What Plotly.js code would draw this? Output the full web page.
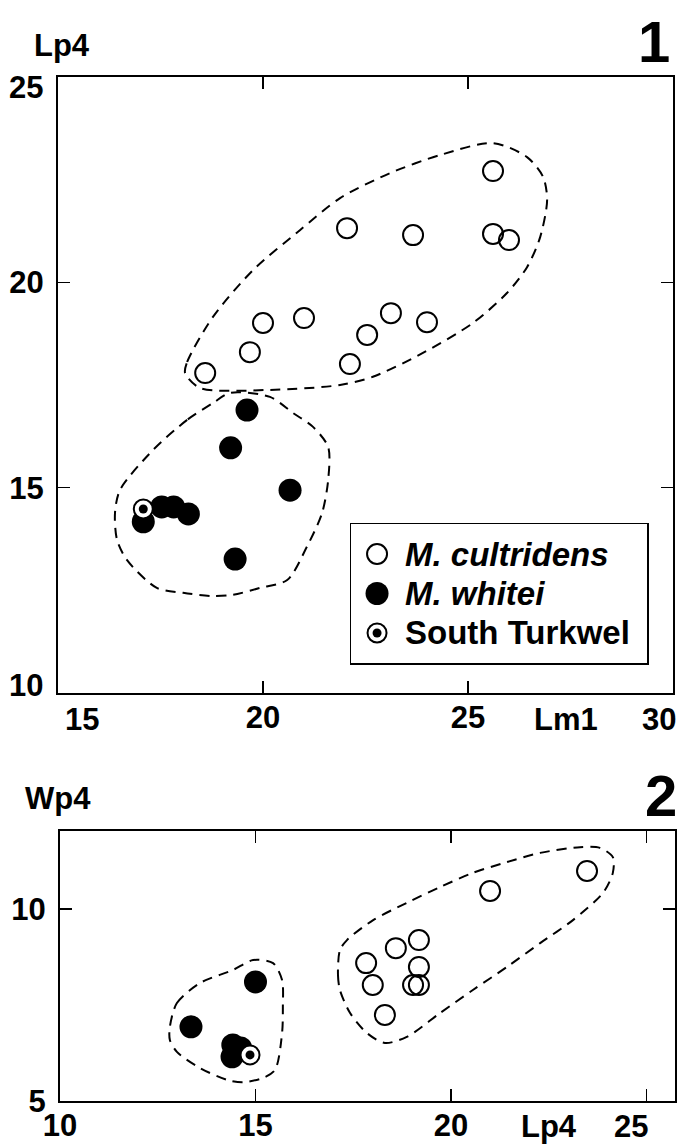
<!DOCTYPE html>
<html>
<head>
<meta charset="utf-8">
<script src="https://cdn.plot.ly/plotly-3.0.1.min.js"></script>
<style>html,body{margin:0;padding:0;background:#fff;}#chart{width:681px;height:1144px;}</style>
</head>
<body>
<div id="chart"></div>
<script>
// ---------- Plot 1: Lm1 vs Lp4 ----------
const cult1X = [18.59, 19.68, 20.0, 21.0, 22.05, 23.66, 25.61, 25.61, 26.0, 23.12, 24.0, 22.54, 22.12];
const cult1Y = [17.79, 18.30, 19.01, 19.13, 21.32, 21.15, 22.71, 21.18, 21.03, 19.25, 19.03, 18.72, 18.01];
const whit1X = [19.61, 19.21, 20.66, 19.32, 17.08, 17.53, 17.82, 18.18];
const whit1Y = [16.89, 15.97, 14.94, 13.26, 14.17, 14.53, 14.53, 14.36];
const turk1X = [17.08];
const turk1Y = [14.48];
const hullA1X = [18.10, 18.15, 18.78, 19.76, 20.90, 21.88, 23.10, 24.32, 25.61, 26.44, 26.83, 26.93, 26.76, 26.44, 25.95, 25.12, 23.90, 22.68, 21.88, 20.17, 18.46, 18.10];
const hullA1Y = [17.79, 18.06, 19.16, 20.30, 21.27, 22.05, 22.66, 23.10, 23.39, 23.05, 22.57, 22.01, 21.10, 20.37, 19.74, 19.01, 18.28, 17.70, 17.50, 17.38, 17.43, 17.79];
const hullB1X = [18.78, 18.15, 17.32, 16.51, 16.39, 16.44, 16.68, 17.41, 18.05, 18.78, 19.27, 19.93, 20.59, 21.07, 21.44, 21.59, 21.59, 21.22, 20.73, 20.17, 19.20, 18.78];
const hullB1Y = [17.06, 16.65, 15.92, 14.94, 14.38, 13.73, 13.24, 12.56, 12.44, 12.36, 12.39, 12.56, 12.75, 13.56, 14.38, 15.19, 15.99, 16.48, 16.82, 17.21, 17.31, 17.06];
const ticks1X = [15, 20, 25, 30];
const ticks1Y = [10, 15, 20, 25];

// ---------- Plot 2: Lp4 vs Wp4 ----------
const cult2X = [21.0, 23.48, 19.18, 18.59, 17.83, 19.18, 18.0, 19.03, 19.18, 18.31];
const cult2Y = [10.47, 10.99, 9.19, 8.98, 8.59, 8.49, 8.02, 8.02, 8.02, 7.24];
const whit2X = [15.0, 13.35, 14.42, 14.40, 14.62];
const whit2Y = [8.10, 6.93, 6.46, 6.15, 6.38];
const turk2X = [14.86];
const turk2Y = [6.20];
const hullA2X = [17.16, 17.11, 17.16, 17.42, 17.85, 18.31, 18.87, 19.72, 20.56, 21.43, 22.28, 23.12, 23.89, 24.14, 24.14, 23.81, 23.30, 22.28, 21.43, 20.56, 19.72, 18.87, 18.01, 17.34, 17.16];
const hullA2Y = [8.93, 8.28, 7.89, 7.29, 6.77, 6.51, 6.67, 7.29, 7.89, 8.49, 9.11, 9.71, 10.42, 10.94, 11.35, 11.59, 11.61, 11.46, 11.22, 10.94, 10.57, 10.16, 9.71, 9.19, 8.93];
const hullB2X = [12.81, 12.99, 13.58, 14.42, 14.94, 15.45, 15.68, 15.70, 15.68, 15.50, 15.19, 14.68, 14.27, 13.58, 12.99, 12.81, 12.81];
const hullB2Y = [6.93, 7.55, 8.07, 8.41, 8.67, 8.59, 8.15, 7.45, 6.77, 5.81, 5.60, 5.49, 5.55, 5.86, 6.28, 6.59, 6.93];
const ticks2X = [10, 15, 20, 25];
const ticks2Y = [5, 10];

const legendNames = ['<i>M. cultridens</i>', '<i>M. whitei</i>', 'South Turkwel'];

// ---------- styles ----------
const FONT = 'Liberation Sans, Arial, Helvetica, sans-serif';
const tickFont = {family: FONT, size: 31, color: '#000', weight: 700};
const hullLine = {color: '#000', width: 2, dash: '10px,7px', shape: 'spline', smoothing: 0.8};
const openMarker = {symbol: 'circle-open', size: 20, color: '#000', line: {width: 2, color: '#000'}};
const fillMarker = {symbol: 'circle', size: 23, color: '#000', line: {width: 0}};
const ringMarker = {symbol: 'circle', size: 19, color: '#fff', line: {width: 2, color: '#000'}};
const dotMarker = {symbol: 'circle', size: 9, color: '#000', line: {width: 0}};

function hull(x, y, xa, ya) {
  return {x: x, y: y, xaxis: xa, yaxis: ya, type: 'scatter', mode: 'lines', line: hullLine, showlegend: false, hoverinfo: 'skip'};
}
function pts(x, y, xa, ya, marker, name) {
  return {x: x, y: y, xaxis: xa, yaxis: ya, type: 'scatter', mode: 'markers', marker: marker, name: name, showlegend: false};
}

const traces = [
  hull(hullA1X, hullA1Y, 'x', 'y'),
  hull(hullB1X, hullB1Y, 'x', 'y'),
  pts(cult1X, cult1Y, 'x', 'y', openMarker, 'M. cultridens'),
  pts(whit1X, whit1Y, 'x', 'y', fillMarker, 'M. whitei'),
  pts(turk1X, turk1Y, 'x', 'y', ringMarker, 'South Turkwel'),
  pts(turk1X, turk1Y, 'x', 'y', dotMarker, 'South Turkwel'),
  hull(hullA2X, hullA2Y, 'x2', 'y2'),
  hull(hullB2X, hullB2Y, 'x2', 'y2'),
  pts(cult2X, cult2Y, 'x2', 'y2', openMarker, 'M. cultridens'),
  pts(whit2X, whit2Y, 'x2', 'y2', fillMarker, 'M. whitei'),
  pts(turk2X, turk2Y, 'x2', 'y2', ringMarker, 'South Turkwel'),
  pts(turk2X, turk2Y, 'x2', 'y2', dotMarker, 'South Turkwel')
];

// legend glyphs (row index based)
const legRows = legendNames.map((_, i) => i);
const legGlyphX = legendNames.map(() => 0.088);
traces.push(pts([legGlyphX[0]], [legRows[0]], 'x3', 'y3', openMarker, 'legend'));
traces.push(pts([legGlyphX[1]], [legRows[1]], 'x3', 'y3', fillMarker, 'legend'));
traces.push(pts([legGlyphX[2]], [legRows[2]], 'x3', 'y3', ringMarker, 'legend'));
traces.push(pts([legGlyphX[2]], [legRows[2]], 'x3', 'y3', dotMarker, 'legend'));

// axis: frame + inward ticks; labels of edge ticks are drawn nudged inward as annotations
function axis(domain, range, ticks, anchor, hide, standoff) {
  return {
    domain: domain, range: range, anchor: anchor,
    tickmode: 'array', tickvals: ticks, ticktext: ticks.map(v => hide.indexOf(v) >= 0 ? '' : String(v)),
    ticks: 'inside', ticklen: 12, tickwidth: 1.5, tickcolor: '#000',
    showline: true, linewidth: 2, linecolor: '#000', mirror: 'ticks',
    showgrid: false, zeroline: false, tickfont: tickFont, ticklabelstandoff: standoff,
    fixedrange: true
  };
}

const W = 681, H = 1144;
const px = v => v / W;
const py = v => 1 - v / H;

const d1x = [px(58), px(673)], d1y = [py(693), py(77)];
const d2x = [px(60), px(675)], d2y = [py(1101), py(831)];
const XSO = -4, YSO = 6;

function xEdgeLabel(xref, v, shift, yPix) {
  return {text: String(v), xref: xref, yref: 'paper', x: v, xshift: shift, y: py(yPix), xanchor: 'center', yanchor: 'middle', showarrow: false, font: tickFont};
}
function yEdgeLabel(yref, v, shift, xPix) {
  return {text: String(v), xref: 'paper', yref: yref, x: px(xPix), y: v, yshift: shift, xanchor: 'right', yanchor: 'middle', showarrow: false, font: tickFont};
}

const layout = {
  width: W, height: H,
  margin: {l: 0, r: 0, t: 0, b: 0},
  paper_bgcolor: '#fff', plot_bgcolor: 'rgba(0,0,0,0)',
  showlegend: false,
  xaxis: axis(d1x, [14.9999, 30.0001], ticks1X, 'y', [15, 30], XSO),
  yaxis: axis(d1y, [9.9999, 25.0001], ticks1Y, 'x', [10, 25], YSO),
  xaxis2: axis(d2x, [9.9999, 25.73], ticks2X, 'y2', [25], XSO),
  yaxis2: axis(d2y, [4.9999, 12.03], ticks2Y, 'x2', [], YSO),
  xaxis3: {domain: [px(351), px(647)], range: [0, 1], anchor: 'y3', showline: true, mirror: true, linewidth: 1.5, linecolor: '#000', showgrid: false, zeroline: false, showticklabels: false, ticks: '', fixedrange: true},
  yaxis3: {domain: [py(663), py(524)], range: [2.76, -0.76], anchor: 'x3', showline: true, mirror: true, linewidth: 1.5, linecolor: '#000', showgrid: false, zeroline: false, showticklabels: false, ticks: '', fixedrange: true},
  annotations: [
    xEdgeLabel('x', ticks1X[0], 24, 719),
    xEdgeLabel('x', ticks1X[3], -14, 719),
    yEdgeLabel('y', ticks1Y[0], 8, 45),
    yEdgeLabel('y', ticks1Y[3], -11, 45),
    xEdgeLabel('x2', ticks2X[3], -15, 1126),
    {text: 'Lp4', xref: 'paper', yref: 'paper', x: px(32), y: py(45), xanchor: 'left', yanchor: 'middle', showarrow: false, font: tickFont},
    {text: 'Lm1', xref: 'paper', yref: 'paper', x: px(566), y: py(719), xanchor: 'center', yanchor: 'middle', showarrow: false, font: tickFont},
    {text: '1', xref: 'paper', yref: 'paper', x: px(672), y: py(42), xanchor: 'right', yanchor: 'middle', showarrow: false, font: {family: FONT, size: 58, color: '#000', weight: 700}},
    {text: 'Wp4', xref: 'paper', yref: 'paper', x: px(23), y: py(798), xanchor: 'left', yanchor: 'middle', showarrow: false, font: tickFont},
    {text: 'Lp4', xref: 'paper', yref: 'paper', x: px(549), y: py(1126), xanchor: 'center', yanchor: 'middle', showarrow: false, font: tickFont},
    {text: '2', xref: 'paper', yref: 'paper', x: px(679), y: py(795), xanchor: 'right', yanchor: 'middle', showarrow: false, font: {family: FONT, size: 58, color: '#000', weight: 700}}
  ].concat(legendNames.map((t, i) => ({
    text: t, xref: 'x3', yref: 'y3', x: 0.175, y: legRows[i], xanchor: 'left', yanchor: 'middle', showarrow: false,
    font: {family: FONT, size: 33, color: '#000', weight: 700}
  })))
};

Plotly.newPlot('chart', traces, layout, {displayModeBar: false, staticPlot: true});
</script>
</body>
</html>
